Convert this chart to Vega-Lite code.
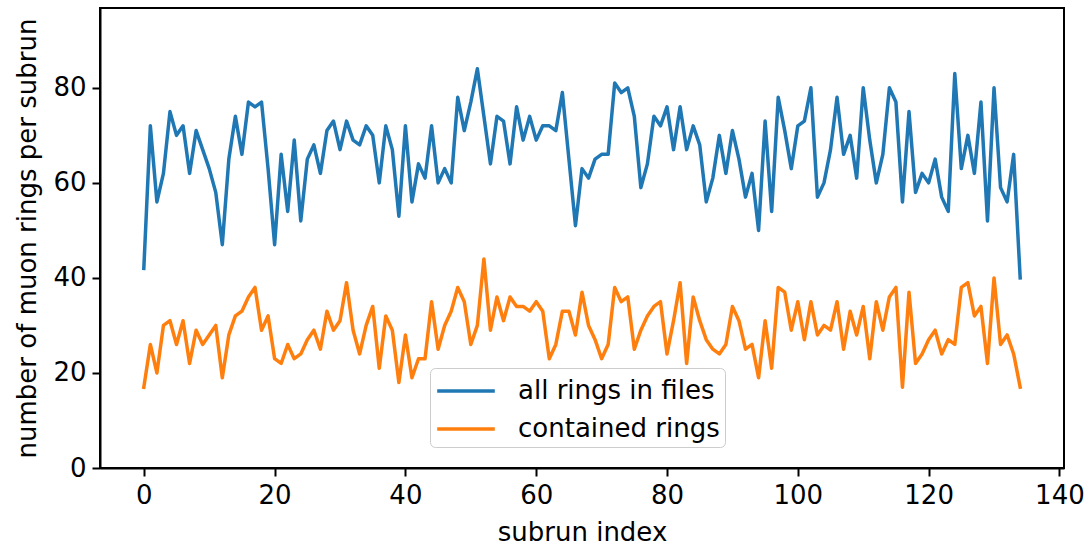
{
  "$schema": "https://vega.github.io/schema/vega-lite/v6.json",
  "autosize": "none",
  "width": 964,
  "height": 460,
  "padding": {"left": 100, "top": 8, "right": 24, "bottom": 80},
  "background": "white",
  "config": {
    "font": "DejaVu Sans",
    "view": {"stroke": "black", "strokeWidth": 2},
    "axis": {
      "grid": false,
      "domainColor": "black",
      "domainWidth": 2,
      "tickColor": "black",
      "tickWidth": 2,
      "tickSize": 8,
      "labelFont": "DejaVu Sans",
      "labelFontSize": 26,
      "labelColor": "black",
      "labelPadding": 6,
      "titleFont": "DejaVu Sans",
      "titleFontSize": 26,
      "titleFontWeight": "normal",
      "titleColor": "black"
    },
    "legend": {
      "labelFont": "DejaVu Sans",
      "labelFontSize": 26,
      "labelColor": "black"
    }
  },
  "data": {
    "values": [
      {"subrun":0,"a":42,"c":17},{"subrun":1,"a":72,"c":26},{"subrun":2,"a":56,"c":20},{"subrun":3,"a":62,"c":30},{"subrun":4,"a":75,"c":31},
      {"subrun":5,"a":70,"c":26},{"subrun":6,"a":72,"c":31},{"subrun":7,"a":62,"c":22},{"subrun":8,"a":71,"c":29},{"subrun":9,"a":67,"c":26},
      {"subrun":10,"a":63,"c":28},{"subrun":11,"a":58,"c":30},{"subrun":12,"a":47,"c":19},{"subrun":13,"a":65,"c":28},{"subrun":14,"a":74,"c":32},
      {"subrun":15,"a":66,"c":33},{"subrun":16,"a":77,"c":36},{"subrun":17,"a":76,"c":38},{"subrun":18,"a":77,"c":29},{"subrun":19,"a":63,"c":32},
      {"subrun":20,"a":47,"c":23},{"subrun":21,"a":66,"c":22},{"subrun":22,"a":54,"c":26},{"subrun":23,"a":69,"c":23},{"subrun":24,"a":52,"c":24},
      {"subrun":25,"a":65,"c":27},{"subrun":26,"a":68,"c":29},{"subrun":27,"a":62,"c":25},{"subrun":28,"a":71,"c":33},{"subrun":29,"a":73,"c":29},
      {"subrun":30,"a":67,"c":31},{"subrun":31,"a":73,"c":39},{"subrun":32,"a":69,"c":29},{"subrun":33,"a":68,"c":24},{"subrun":34,"a":72,"c":30},
      {"subrun":35,"a":70,"c":34},{"subrun":36,"a":60,"c":21},{"subrun":37,"a":72,"c":32},{"subrun":38,"a":67,"c":29},{"subrun":39,"a":53,"c":18},
      {"subrun":40,"a":72,"c":28},{"subrun":41,"a":56,"c":19},{"subrun":42,"a":64,"c":23},{"subrun":43,"a":61,"c":23},{"subrun":44,"a":72,"c":35},
      {"subrun":45,"a":60,"c":25},{"subrun":46,"a":63,"c":30},{"subrun":47,"a":60,"c":33},{"subrun":48,"a":78,"c":38},{"subrun":49,"a":71,"c":35},
      {"subrun":50,"a":77,"c":26},{"subrun":51,"a":84,"c":30},{"subrun":52,"a":74,"c":44},{"subrun":53,"a":64,"c":29},{"subrun":54,"a":74,"c":36},
      {"subrun":55,"a":73,"c":31},{"subrun":56,"a":64,"c":36},{"subrun":57,"a":76,"c":34},{"subrun":58,"a":69,"c":34},{"subrun":59,"a":74,"c":33},
      {"subrun":60,"a":69,"c":35},{"subrun":61,"a":72,"c":33},{"subrun":62,"a":72,"c":23},{"subrun":63,"a":71,"c":26},{"subrun":64,"a":79,"c":33},
      {"subrun":65,"a":65,"c":33},{"subrun":66,"a":51,"c":28},{"subrun":67,"a":63,"c":37},{"subrun":68,"a":61,"c":30},{"subrun":69,"a":65,"c":27},
      {"subrun":70,"a":66,"c":23},{"subrun":71,"a":66,"c":26},{"subrun":72,"a":81,"c":38},{"subrun":73,"a":79,"c":35},{"subrun":74,"a":80,"c":36},
      {"subrun":75,"a":74,"c":25},{"subrun":76,"a":59,"c":29},{"subrun":77,"a":64,"c":32},{"subrun":78,"a":74,"c":34},{"subrun":79,"a":72,"c":35},
      {"subrun":80,"a":76,"c":24},{"subrun":81,"a":67,"c":31},{"subrun":82,"a":76,"c":39},{"subrun":83,"a":67,"c":22},{"subrun":84,"a":72,"c":36},
      {"subrun":85,"a":68,"c":31},{"subrun":86,"a":56,"c":27},{"subrun":87,"a":61,"c":25},{"subrun":88,"a":70,"c":24},{"subrun":89,"a":62,"c":26},
      {"subrun":90,"a":71,"c":34},{"subrun":91,"a":65,"c":31},{"subrun":92,"a":57,"c":25},{"subrun":93,"a":62,"c":26},{"subrun":94,"a":50,"c":19},
      {"subrun":95,"a":73,"c":31},{"subrun":96,"a":54,"c":21},{"subrun":97,"a":78,"c":38},{"subrun":98,"a":71,"c":37},{"subrun":99,"a":63,"c":29},
      {"subrun":100,"a":72,"c":35},{"subrun":101,"a":73,"c":27},{"subrun":102,"a":80,"c":35},{"subrun":103,"a":57,"c":28},{"subrun":104,"a":60,"c":30},
      {"subrun":105,"a":67,"c":29},{"subrun":106,"a":78,"c":35},{"subrun":107,"a":66,"c":25},{"subrun":108,"a":70,"c":33},{"subrun":109,"a":61,"c":28},
      {"subrun":110,"a":80,"c":34},{"subrun":111,"a":69,"c":23},{"subrun":112,"a":60,"c":35},{"subrun":113,"a":66,"c":29},{"subrun":114,"a":80,"c":36},
      {"subrun":115,"a":77,"c":38},{"subrun":116,"a":56,"c":17},{"subrun":117,"a":75,"c":37},{"subrun":118,"a":58,"c":22},{"subrun":119,"a":62,"c":24},
      {"subrun":120,"a":60,"c":27},{"subrun":121,"a":65,"c":29},{"subrun":122,"a":57,"c":24},{"subrun":123,"a":54,"c":27},{"subrun":124,"a":83,"c":26},
      {"subrun":125,"a":63,"c":38},{"subrun":126,"a":70,"c":39},{"subrun":127,"a":62,"c":32},{"subrun":128,"a":77,"c":34},{"subrun":129,"a":52,"c":22},
      {"subrun":130,"a":80,"c":40},{"subrun":131,"a":59,"c":26},{"subrun":132,"a":56,"c":28},{"subrun":133,"a":66,"c":24},{"subrun":134,"a":40,"c":17}
    ]
  },
  "transform": [{"fold": ["a", "c"], "as": ["series", "rings"]}],
  "mark": {"type": "line", "strokeWidth": 3.5, "strokeCap": "square", "strokeJoin": "round"},
  "encoding": {
    "x": {
      "field": "subrun", "type": "quantitative",
      "scale": {"domain": [-6.7, 140.7], "nice": false, "zero": false},
      "axis": {"values": [0, 20, 40, 60, 80, 100, 120, 140], "title": "subrun index", "titlePadding": 11}
    },
    "y": {
      "field": "rings", "type": "quantitative",
      "scale": {"domain": [0, 96.8], "nice": false},
      "axis": {"values": [0, 20, 40, 60, 80], "title": "number of muon rings per subrun", "titlePadding": 12}
    },
    "color": {
      "field": "series", "type": "nominal",
      "scale": {"domain": ["a", "c"], "range": ["#1f77b4", "#ff7f0e"]},
      "legend": {
        "title": null,
        "orient": "none",
        "legendX": 330,
        "legendY": 360,
        "labelExpr": "datum.label == 'a' ? 'all rings in files\u00a0\u00a0' : 'contained rings'",
        "labelLimit": 400,
        "symbolType": "M-1.8,0H1.8",
        "symbolSize": 1024,
        "symbolStrokeWidth": 3.5,
        "symbolFillColor": "transparent",
        "symbolOffset": 13,
        "labelOffset": 34,
        "rowPadding": 7,
        "padding": 5,
        "fillColor": "white",
        "strokeColor": "#cccccc",
        "cornerRadius": 5
      }
    }
  }
}
